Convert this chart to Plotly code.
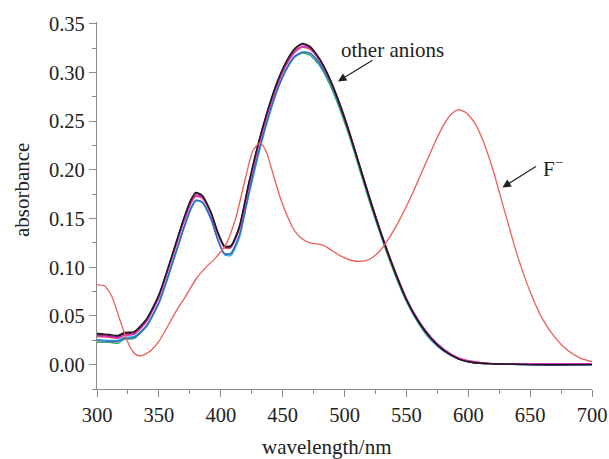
import plotly.graph_objects as go

# Wavelength grid shared by the spectra recorded with the other anions (nm)
wl_anions = [300, 310, 317, 322, 330, 340, 350, 360, 370, 376, 380, 385, 392, 398,
             403, 408, 415, 422, 430, 438, 446, 454, 460, 466, 472, 480, 488, 496,
             504, 512, 520, 530, 540, 550, 560, 570, 580, 592, 605, 620, 650, 700]

abs_black = [0.032, 0.031, 0.030, 0.033, 0.034, 0.047, 0.072, 0.110, 0.150, 0.170, 0.177, 0.174,
             0.157, 0.135, 0.122, 0.122, 0.142, 0.183, 0.226, 0.262, 0.292, 0.314, 0.325, 0.330,
             0.327, 0.314, 0.294, 0.268, 0.238, 0.205, 0.172, 0.133, 0.098, 0.067, 0.044, 0.027,
             0.015, 0.006, 0.002, 0.001, 0.000, 0.000]
abs_purple = [0.031, 0.030, 0.029, 0.032, 0.033, 0.046, 0.071, 0.109, 0.149, 0.169, 0.176, 0.173,
              0.156, 0.134, 0.121, 0.121, 0.141, 0.182, 0.225, 0.261, 0.291, 0.313, 0.324, 0.329,
              0.326, 0.313, 0.294, 0.268, 0.238, 0.205, 0.172, 0.133, 0.098, 0.067, 0.044, 0.027,
              0.015, 0.006, 0.002, 0.001, 0.000, 0.000]
abs_magenta = [0.030, 0.029, 0.028, 0.031, 0.032, 0.045, 0.070, 0.108, 0.147, 0.167, 0.174, 0.172,
               0.156, 0.134, 0.121, 0.121, 0.140, 0.180, 0.223, 0.259, 0.289, 0.311, 0.322, 0.327,
               0.325, 0.313, 0.294, 0.269, 0.239, 0.206, 0.173, 0.134, 0.099, 0.068, 0.045, 0.028,
               0.016, 0.007, 0.003, 0.001, 0.001, 0.001]
abs_pink = [0.029, 0.028, 0.027, 0.030, 0.031, 0.044, 0.069, 0.107, 0.146, 0.166, 0.173, 0.171,
            0.155, 0.133, 0.120, 0.120, 0.139, 0.179, 0.222, 0.258, 0.288, 0.310, 0.321, 0.326,
            0.324, 0.312, 0.294, 0.269, 0.239, 0.206, 0.173, 0.134, 0.099, 0.068, 0.045, 0.028,
            0.016, 0.007, 0.003, 0.001, 0.001, 0.001]
abs_blue = [0.025, 0.024, 0.024, 0.027, 0.028, 0.040, 0.064, 0.101, 0.140, 0.161, 0.169, 0.167,
            0.150, 0.127, 0.114, 0.114, 0.133, 0.173, 0.216, 0.253, 0.284, 0.306, 0.317, 0.321,
            0.320, 0.309, 0.291, 0.266, 0.237, 0.204, 0.171, 0.132, 0.097, 0.066, 0.043, 0.026,
            0.014, 0.006, 0.002, 0.001, 0.000, 0.000]
abs_cyan = [0.026, 0.025, 0.025, 0.028, 0.029, 0.040, 0.063, 0.100, 0.139, 0.160, 0.168, 0.167,
            0.151, 0.127, 0.113, 0.112, 0.130, 0.170, 0.213, 0.251, 0.283, 0.306, 0.317, 0.321,
            0.320, 0.310, 0.292, 0.267, 0.238, 0.205, 0.172, 0.133, 0.098, 0.067, 0.044, 0.027,
            0.015, 0.006, 0.002, 0.001, 0.000, 0.000]
abs_green = [0.023, 0.023, 0.022, 0.026, 0.027, 0.039, 0.063, 0.100, 0.140, 0.161, 0.169, 0.167,
             0.150, 0.127, 0.114, 0.114, 0.132, 0.172, 0.215, 0.252, 0.283, 0.305, 0.316, 0.320,
             0.318, 0.307, 0.288, 0.263, 0.234, 0.201, 0.168, 0.130, 0.095, 0.065, 0.042, 0.025,
             0.014, 0.006, 0.002, 0.001, 0.000, 0.000]

# Spectrum with fluoride added
wl_fluoride = [300, 306, 312, 318, 322, 326, 330, 334, 338, 344, 350, 356, 364, 372, 380, 388,
               396, 404, 412, 420, 426, 432, 437, 442, 448, 454, 460, 466, 472, 478, 484, 490,
               498, 506, 512, 520, 528, 536, 545, 555, 565, 573, 580, 586, 592, 598, 605, 612,
               620, 630, 640, 650, 660, 670, 680, 690, 700]
abs_fluoride = [0.082, 0.081, 0.070, 0.048, 0.033, 0.020, 0.012, 0.009, 0.010, 0.015, 0.024, 0.037,
                0.055, 0.071, 0.088, 0.100, 0.110, 0.123, 0.150, 0.192, 0.220, 0.228, 0.218, 0.197,
                0.172, 0.152, 0.137, 0.129, 0.125, 0.124, 0.122, 0.117, 0.111, 0.107, 0.106, 0.108,
                0.116, 0.130, 0.150, 0.176, 0.205, 0.228, 0.246, 0.257, 0.262, 0.259, 0.249, 0.230,
                0.200, 0.155, 0.111, 0.075, 0.047, 0.028, 0.015, 0.007, 0.003]

x_ticks = [300, 350, 400, 450, 500, 550, 600, 650, 700]
y_ticks = [0.00, 0.05, 0.10, 0.15, 0.20, 0.25, 0.30, 0.35]

anion_series = [
    (abs_green, "#2FAE5E"),
    (abs_cyan, "#27B5D8"),
    (abs_blue, "#3B5FD6"),
    (abs_pink, "#F0457F"),
    (abs_magenta, "#CC2FC6"),
    (abs_purple, "#7D1E5E"),
    (abs_black, "#1A1A1A"),
]

SERIF = "Liberation Serif"
INK = "#222222"

fig = go.Figure()
for values, color in anion_series:
    fig.add_trace(go.Scatter(x=wl_anions, y=values, mode="lines",
                             line=dict(color=color, width=1.4, shape="spline", smoothing=0.6),
                             hoverinfo="skip"))
fig.add_trace(go.Scatter(x=wl_fluoride, y=abs_fluoride, mode="lines",
                         line=dict(color="#EE5E57", width=1.3, shape="spline", smoothing=0.6),
                         hoverinfo="skip"))

axis_common = dict(showline=True, linecolor="#8C8C8C", linewidth=1.2, ticks="outside",
                   ticklen=7, tickwidth=1.2, tickcolor="#8C8C8C", showgrid=False, zeroline=False,
                   automargin=False,
                   tickfont=dict(family=SERIF, size=20.5, color=INK),
                   minor=dict(ticks="outside", ticklen=4, tickwidth=1, tickcolor="#8C8C8C"))

fig.update_xaxes(range=[300, 700], tickvals=x_ticks, minor_dtick=25, **axis_common)
fig.update_yaxes(range=[-0.025, 0.352], tickvals=y_ticks, tickformat=".2f", minor_dtick=0.025,
                 **axis_common)

# Arrows pointing at the two groups of spectra
fig.add_annotation(x=494.7, y=0.291, ax=36, ay=-22, text="", showarrow=True,
                   arrowhead=2, arrowsize=1.4, arrowwidth=1.2, arrowcolor=INK)
fig.add_annotation(x=538.5, y=0.323, text="other anions", showarrow=False,
                   xanchor="center", yanchor="middle",
                   font=dict(family=SERIF, size=21, color=INK))
fig.add_annotation(x=627.6, y=0.182, ax=35, ay=-22, text="", showarrow=True,
                   arrowhead=2, arrowsize=1.4, arrowwidth=1.2, arrowcolor=INK)
fig.add_annotation(x=658.5, y=0.203, text="F<sup>\u2212</sup>", showarrow=False,
                   xanchor="left", yanchor="middle",
                   font=dict(family=SERIF, size=21, color=INK))

# Axis titles
fig.add_annotation(xref="paper", yref="paper", x=-0.1515, y=0.542, text="absorbance",
                   textangle=-90, showarrow=False, xanchor="center", yanchor="middle",
                   font=dict(family=SERIF, size=21, color=INK))
fig.add_annotation(xref="paper", yref="paper", x=0.4646, y=-0.158, text="wavelength/nm",
                   showarrow=False, xanchor="center", yanchor="middle",
                   font=dict(family=SERIF, size=21, color=INK))

fig.update_layout(width=609, height=459, showlegend=False,
                  margin=dict(l=97, r=17, t=22, b=70),
                  paper_bgcolor="white", plot_bgcolor="white")

fig.write_html("out.html")
